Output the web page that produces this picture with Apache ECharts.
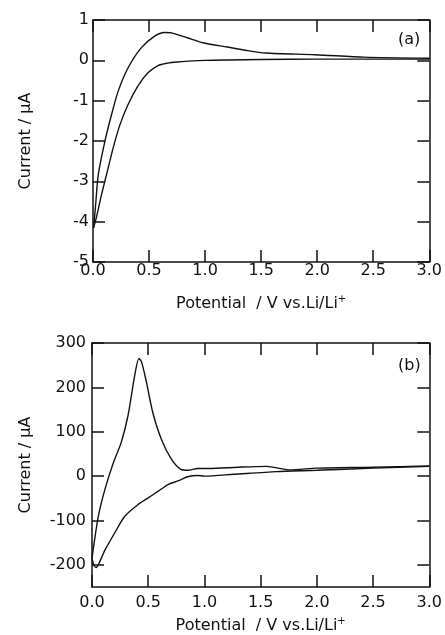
<!DOCTYPE html>
<html>
<head>
<meta charset="utf-8">
<script src="https://cdn.jsdelivr.net/npm/echarts@6/dist/echarts.min.js"></script>
<style>
  html, body { margin: 0; padding: 0; background: #fff; }
  #chart { width: 445px; height: 635px; }
</style>
</head>
<body>
<div id="chart"></div>
<script>
// panel (a): potential / V and current / uA, cathodic sweep (3.0 -> 0) then anodic (0 -> 3.0)
const cathA_V = [3.0, 2.5, 2.0, 1.5, 1.2, 1.0, 0.85, 0.75, 0.666, 0.58, 0.49, 0.40, 0.312, 0.24, 0.18, 0.12, 0.076, 0.03, 0.005];
const cathA_I = [0.03, 0.03, 0.03, 0.02, 0.01, 0.0, -0.02, -0.04, -0.07, -0.13, -0.31, -0.64, -1.10, -1.6, -2.17, -2.84, -3.33, -3.9, -4.15];
const anodA_V = [0.005, 0.02, 0.047, 0.106, 0.165, 0.224, 0.312, 0.43, 0.55, 0.637, 0.70, 0.84, 0.99, 1.2, 1.36, 1.54, 1.98, 2.42, 3.0];
const anodA_I = [-4.15, -3.7, -2.84, -2.01, -1.35, -0.77, -0.19, 0.31, 0.60, 0.69, 0.68, 0.56, 0.43, 0.33, 0.25, 0.18, 0.14, 0.08, 0.05];

// panel (b)
const cathB_V = [3.0, 2.5, 2.0, 1.64, 1.26, 1.0, 0.94, 0.85, 0.765, 0.676, 0.59, 0.5, 0.41, 0.29, 0.20, 0.115, 0.056, 0.035, 0.015, 0.0];
const cathB_I = [22, 18, 13, 10, 4, 0, 1.5, -1.5, -11, -19, -34, -49, -64, -91, -129, -167, -200, -206, -200, -185];
const anodB_V = [0.0, 0.056, 0.115, 0.19, 0.26, 0.32, 0.38, 0.417, 0.44, 0.484, 0.54, 0.617, 0.706, 0.79, 0.854, 0.94, 1.04, 1.3, 1.55, 1.76, 2.0, 2.5, 3.0];
const anodB_I = [-185, -91, -30, 30, 76, 136, 227, 265, 258, 212, 144, 83, 38, 15, 13, 17, 17, 20, 22, 14, 18, 20, 23];

const yTicksB = [-200, -100, 0, 100, 200, 300];
const xTitle = '{n|Potential  / V vs.Li/Li}{s|+}';
const yTitle = 'Current / \u03bcA';

const zip = (xs, ys) => xs.map((x, i) => [x, ys[i]]);

const FONT = 'DejaVu Sans, sans-serif';
const black = '#111';

const chart = echarts.init(document.getElementById('chart'));

const lineAxis = { show: true, onZero: false, lineStyle: { color: black, width: 1.5 } };
const tickIn = { show: true, inside: true, length: 12, lineStyle: { color: black, width: 1.5 } };

function mirrorX(grid, min, max, interval) {
  return { type: 'value', gridIndex: grid, position: 'top', min, max, interval,
    axisLine: lineAxis, axisTick: tickIn, axisLabel: { show: false }, splitLine: { show: false } };
}
function mirrorY(grid, min, max, interval, ticks) {
  const t = Object.assign({}, tickIn);
  if (ticks) t.customValues = ticks;
  return { type: 'value', gridIndex: grid, position: 'right', min, max, interval,
    axisLine: lineAxis, axisTick: t, axisLabel: { show: false }, splitLine: { show: false } };
}
function bottomX(grid, margin, gap) {
  return { type: 'value', gridIndex: grid, position: 'bottom', min: 0, max: 3, interval: 0.5,
    axisLine: lineAxis, axisTick: tickIn, splitLine: { show: false },
    axisLabel: { margin, color: black, fontSize: 16, fontFamily: FONT, formatter: v => v.toFixed(1) },
    name: xTitle, nameLocation: 'middle', nameGap: gap,
    nameTextStyle: { rich: {
      n: { fontSize: 16, color: black, fontFamily: FONT },
      s: { fontSize: 10, color: black, fontFamily: FONT, padding: [0, 0, 9, 0] }
    } } };
}

const option = {
  animation: false,
  backgroundColor: '#fff',
  title: [
    { text: '(a)', left: 393, top: 27, textStyle: { fontSize: 16, fontWeight: 'normal', color: black, fontFamily: FONT } },
    { text: '(b)', left: 393, top: 353, textStyle: { fontSize: 16, fontWeight: 'normal', color: black, fontFamily: FONT } }
  ],
  grid: [
    { left: 93, top: 20, width: 339, height: 242 },
    { left: 92, top: 343, width: 338, height: 244 }
  ],
  xAxis: [
    bottomX(0, 1, 32),
    mirrorX(0, 0, 3, 0.5),
    bottomX(1, 8, 29),
    mirrorX(1, 0, 3, 0.5)
  ],
  yAxis: [
    { type: 'value', gridIndex: 0, min: -5, max: 1, interval: 1,
      axisLine: lineAxis, axisTick: tickIn, splitLine: { show: false },
      axisLabel: { margin: 4, color: black, fontSize: 16, fontFamily: FONT },
      name: yTitle, nameLocation: 'middle', nameGap: 59,
      nameTextStyle: { fontSize: 16, color: black, fontFamily: FONT } },
    mirrorY(0, -5, 1, 1),
    { type: 'value', gridIndex: 1, min: -250, max: 300, interval: 50,
      axisLine: lineAxis, axisTick: Object.assign({ customValues: yTicksB }, tickIn), splitLine: { show: false },
      axisLabel: { customValues: yTicksB, margin: 6, color: black, fontSize: 16, fontFamily: FONT },
      name: yTitle, nameLocation: 'middle', nameGap: 58,
      nameTextStyle: { fontSize: 16, color: black, fontFamily: FONT } },
    mirrorY(1, -250, 300, 50, yTicksB)
  ],
  series: [
    { type: 'line', xAxisIndex: 0, yAxisIndex: 0, data: zip(cathA_V, cathA_I) },
    { type: 'line', xAxisIndex: 0, yAxisIndex: 0, data: zip(anodA_V, anodA_I) },
    { type: 'line', xAxisIndex: 2, yAxisIndex: 2, data: zip(cathB_V, cathB_I) },
    { type: 'line', xAxisIndex: 2, yAxisIndex: 2, data: zip(anodB_V, anodB_I) }
  ].map(s => Object.assign(s, {
    smooth: 0.25, showSymbol: false, symbol: 'none',
    lineStyle: { color: black, width: 1.4 }
  }))
};

chart.setOption(option);
</script>
</body>
</html>
